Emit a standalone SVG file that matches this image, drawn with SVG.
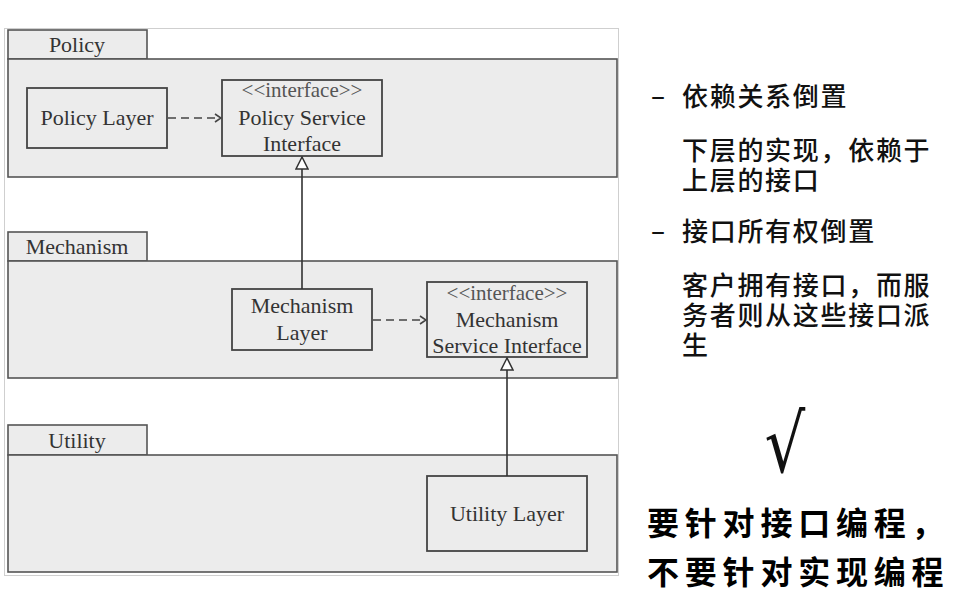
<svg xmlns="http://www.w3.org/2000/svg" width="970" height="610" viewBox="0 0 970 610">
<defs>
<style>
.frame{fill:none;stroke:#cfcfcf;stroke-width:1}
.pkg{fill:#ececec;stroke:#555;stroke-width:1.6}
.box{fill:#ececec;stroke:#444;stroke-width:1.8}
.t{font-family:"Liberation Serif","Times New Roman",serif;fill:#333;text-anchor:middle}
.tab{font-size:22px}
.lbl{font-size:22px}
.ifc{font-size:21px;fill:#555}
.dep{fill:none;stroke:#444;stroke-width:1.6;stroke-dasharray:8 5}
.gen{fill:none;stroke:#333;stroke-width:1.6}
.cn{font-family:"Noto Sans CJK SC","Noto Sans",sans-serif;font-size:26px;letter-spacing:1.7px;font-weight:500;fill:#111}
.bold{font-family:"Noto Sans CJK SC",sans-serif;font-size:32px;font-weight:700;letter-spacing:5.8px;fill:#000}
</style>
<marker id="open" viewBox="0 0 10 10" refX="9" refY="5" markerWidth="10" markerHeight="10" markerUnits="userSpaceOnUse" orient="auto">
<path d="M3,1 L9,5 L3,9" fill="none" stroke="#444" stroke-width="1.6"/>
</marker>
<marker id="tri" viewBox="0 0 14 14" refX="13" refY="7" markerWidth="14" markerHeight="14" markerUnits="userSpaceOnUse" orient="auto">
<path d="M13,7 L1,1 L1,13 Z" fill="#fff" stroke="#333" stroke-width="1.5"/>
</marker>
</defs>
<rect width="970" height="610" fill="#fff"/>
<rect class="frame" x="4.5" y="28.5" width="614" height="547"/>

<g id="pkg-policy">
<rect class="pkg" x="8" y="30" width="139" height="29"/>
<rect class="pkg" x="8" y="59" width="609" height="118"/>
<text class="t tab" x="77" y="52">Policy</text>
</g>
<g id="pkg-mechanism">
<rect class="pkg" x="8" y="232" width="139" height="29"/>
<rect class="pkg" x="8" y="261" width="609" height="117"/>
<text class="t tab" x="77" y="254">Mechanism</text>
</g>
<g id="pkg-utility">
<rect class="pkg" x="8" y="425" width="139" height="30"/>
<rect class="pkg" x="8" y="455" width="609" height="117"/>
<text class="t tab" x="77" y="448">Utility</text>
</g>

<g id="policy-layer">
<rect class="box" x="27" y="88" width="140" height="60"/>
<text class="t lbl" x="97" y="125">Policy Layer</text>
</g>
<g id="policy-service-interface">
<rect class="box" x="222" y="80" width="160" height="76"/>
<text class="t ifc" x="302" y="97">&lt;&lt;interface&gt;&gt;</text>
<text class="t lbl" x="302" y="125">Policy Service</text>
<text class="t lbl" x="302" y="151">Interface</text>
</g>
<g id="mechanism-layer">
<rect class="box" x="232" y="289" width="140" height="61"/>
<text class="t lbl" x="302" y="313">Mechanism</text>
<text class="t lbl" x="302" y="340">Layer</text>
</g>
<g id="mechanism-service-interface">
<rect class="box" x="427" y="282" width="160" height="75"/>
<text class="t ifc" x="507" y="300">&lt;&lt;interface&gt;&gt;</text>
<text class="t lbl" x="507" y="327">Mechanism</text>
<text class="t lbl" x="507" y="353">Service Interface</text>
</g>
<g id="utility-layer">
<rect class="box" x="427" y="476" width="160" height="75"/>
<text class="t lbl" x="507" y="521">Utility Layer</text>
</g>

<g id="connectors">
<line class="dep" x1="168" y1="118" x2="221" y2="118" marker-end="url(#open)"/>
<line class="dep" x1="373" y1="320" x2="426" y2="320" marker-end="url(#open)"/>
<line class="gen" x1="302" y1="289" x2="302" y2="157" marker-end="url(#tri)"/>
<line class="gen" x1="507" y1="476" x2="507" y2="358" marker-end="url(#tri)"/>
</g>

<g id="notes">
<text class="cn" x="651" y="105">–</text>
<text class="cn" x="682" y="106">依赖关系倒置</text>
<text class="cn" x="682" y="160">下层的实现，依赖于</text>
<text class="cn" x="682" y="190">上层的接口</text>
<text class="cn" x="651" y="240">–</text>
<text class="cn" x="682" y="241">接口所有权倒置</text>
<text class="cn" x="682" y="295">客户拥有接口，而服</text>
<text class="cn" x="682" y="325">务者则从这些接口派</text>
<text class="cn" x="682" y="355">生</text>
<text transform="translate(785,472) scale(0.8,1)" text-anchor="middle" style="font-family:'DejaVu Sans',sans-serif;font-size:80px;fill:#111">√</text>
<text class="bold" x="647" y="535">要针对接口编程，</text>
<text class="bold" x="647" y="584">不要针对实现编程</text>
</g>
</svg>
